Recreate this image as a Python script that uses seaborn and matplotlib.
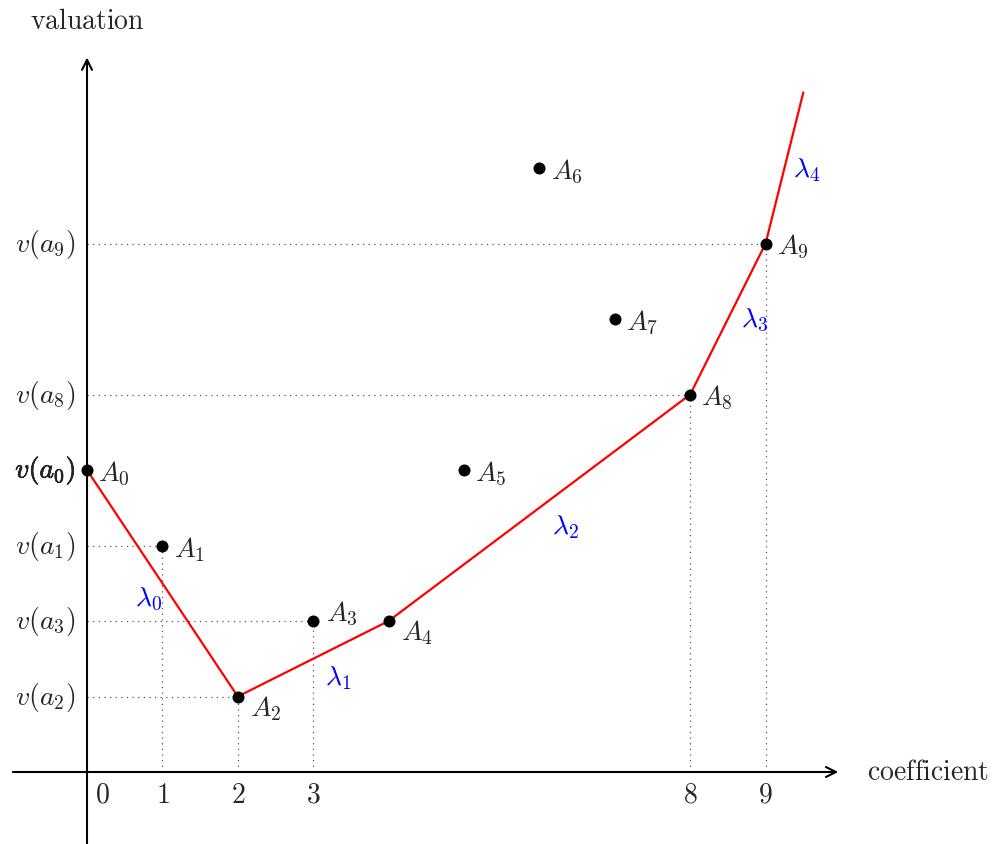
import matplotlib
matplotlib.use("Agg")
import matplotlib.pyplot as plt
import matplotlib.patheffects as pe
import seaborn as sns
import pandas as pd

# points A_i = (i, v(a_i))
coef = [0, 1, 2, 3, 4, 5, 6, 7, 8, 9]
val = [4, 3, 1, 2, 2, 4, 8, 6, 5, 7]

# lower convex hull (Newton polygon), last segment goes on upwards
hull_x = [0, 2, 4, 8, 9, 9.5]
hull_y = [4, 1, 2, 5, 7, 9]
slopes = [r"$\lambda_0$", r"$\lambda_1$", r"$\lambda_2$", r"$\lambda_3$", r"$\lambda_4$"]

# points marked on the axes
marked = [1, 2, 3, 8, 9]
xtick_vals = [0, 1, 2, 3, 8, 9]
ytick_idx = [9, 8, 0, 1, 3, 2]

sns.set_style("white")
plt.rcParams["mathtext.fontset"] = "cm"
plt.rcParams["font.family"] = ["cmr10", "DejaVu Sans"]

fig = plt.figure(figsize=(9.95, 8.45), dpi=100)
ax = fig.add_axes([0, 0, 1, 1])
ax.axis("off")

FS = 20

# axes with arrows
ax.annotate("", xy=(10, 0), xytext=(-1.02, 0),
            arrowprops=dict(arrowstyle="->", lw=1.5, color="black", mutation_scale=18))
ax.annotate("", xy=(0, 9.5), xytext=(0, -1.0),
            arrowprops=dict(arrowstyle="->", lw=1.5, color="black", mutation_scale=18))
ax.text(0, 9.95, r"$\mathrm{valuation}$", fontsize=FS, ha="center", va="center")
ax.text(10.35, 0, r"$\mathrm{coefficient}$", fontsize=FS, ha="left", va="center")

# dotted guides
for i in marked:
    ax.plot([0, coef[i]], [val[i], val[i]], color="#555555", lw=0.9,
            linestyle=(0, (1, 3.5)), zorder=1)
    ax.plot([coef[i], coef[i]], [0, val[i]], color="#555555", lw=0.9,
            linestyle=(0, (1, 3.5)), zorder=1)

# polygon and points
sns.lineplot(data=pd.DataFrame({"x": hull_x, "y": hull_y}), x="x", y="y",
             sort=False, color="red", lw=1.6, ax=ax, zorder=3)
sns.scatterplot(data=pd.DataFrame({"x": coef, "y": val}), x="x", y="y",
                color="black", s=75, edgecolor="black", linewidth=0, ax=ax, zorder=4)
ax.set_xlim(-87 / 75.4, (995 - 87) / 75.4)
ax.set_ylim(-(845 - 773) / 75.5, 773 / 75.5)

# point labels
offsets = {2: (9, -8), 3: (9, 6), 4: (9, -8)}
for i in range(len(coef)):
    dx, dy = offsets.get(i, (8, -2))
    ax.annotate(rf"$A_{i}$", xy=(coef[i], val[i]), xytext=(dx, dy),
                textcoords="offset points", fontsize=FS, ha="left", va="center")

# slope labels near segment midpoints
lam_off = [(-10, -11), (18, -13), (19, -13), (19, 0), (16, -1)]
for k in range(len(slopes)):
    mx = (hull_x[k] + hull_x[k + 1]) / 2
    my = (hull_y[k] + hull_y[k + 1]) / 2
    ax.annotate(slopes[k], xy=(mx, my), xytext=lam_off[k], textcoords="offset points",
                fontsize=FS, color="blue", ha="center", va="center")

# tick labels
for x in xtick_vals:
    shift = 0.2 if x == 0 else 0
    ax.text(x + shift, -0.3, rf"${x}$", fontsize=FS, ha="center", va="center")
for i in ytick_idx:
    t = ax.text(-0.15, val[i], rf"$v(a_{i})$", fontsize=FS, ha="right", va="center")
    if i == 0:
        t.set_path_effects([pe.withStroke(linewidth=0.5, foreground="black")])

fig.savefig("out.png", dpi=100)
